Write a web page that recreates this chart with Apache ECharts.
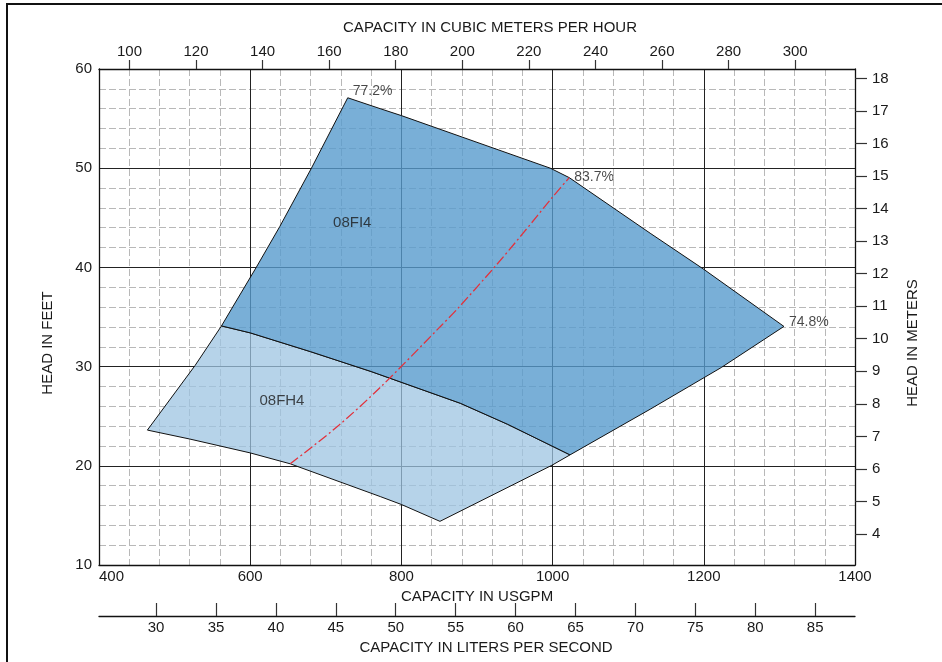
<!DOCTYPE html>
<html>
<head>
<meta charset="utf-8">
<title>08FH4 / 08FI4 performance range</title>
<script src="https://cdn.jsdelivr.net/npm/echarts@6/dist/echarts.min.js"></script>
<style>
  html, body { margin: 0; padding: 0; background: #fff; overflow: hidden; }
  #frame { position: absolute; left: 6px; top: 3px; width: 960px; height: 700px;
           border-left: 2px solid #111; border-top: 2px solid #111; }
  #main { position: absolute; left: 0; top: 0; width: 942px; height: 662px; }
</style>
</head>
<body>
<div id="frame"></div>
<div id="main"></div>
<script>
// unit conversions from the primary axes (USGPM, feet)
var GPM_TO_CMH = 0.2271247;
var GPM_TO_LPS = 0.0630902;
var FT_TO_M = 0.3048;

// secondary axis tick labels
var cmhTicks = [100, 120, 140, 160, 180, 200, 220, 240, 260, 280, 300];
var lpsTicks = [30, 35, 40, 45, 50, 55, 60, 65, 70, 75, 80, 85];
var meterTicks = [4, 5, 6, 7, 8, 9, 10, 11, 12, 13, 14, 15, 16, 17, 18];

// envelope edges, [USGPM, feet]
var leftEdgeLow = [[464, 23.6], [527, 30.1], [562, 34.1]];
var leftEdgeHigh = [[562, 34.1], [576, 35.9], [608, 40.0], [639, 44.1], [681, 50.0], [729, 57.1]];
var fi4Top = [[729, 57.1], [772, 56.0], [800, 55.3], [904, 52.5], [997, 50.0], [1022, 49.05]];
var fi4Right = [[1022, 49.05], [1129, 43.45], [1199, 39.86], [1306, 34.05]];
var rightEdgeHigh = [[1306, 34.05], [1223, 29.9], [1129, 25.7], [1023, 21.1]];
var rightEdgeLow = [[1023, 21.1], [999, 20.05], [851, 14.4]];
var splitEdge = [[562, 34.1], [600, 33.4], [680, 31.5], [760, 29.5], [878, 26.3], [940, 24.2], [999, 22.0], [1023, 21.1]];
var fh4Bottom = [[851, 14.4], [800, 16.1], [772, 16.9], [653, 20.2], [600, 21.3], [520, 22.7], [464, 23.6]];

// best efficiency line
var bepLine = [[653, 20.2], [716, 24.0], [772, 27.9], [851, 34.0], [875, 35.9], [924, 40.1], [961, 43.45], [999, 47.0], [1022, 49.05]];

// annotations
var pctNames = ['77.2%', '83.7%', '74.8%'];
var pctPoints = [[729, 57.1], [1022, 49.05], [1306, 34.05]];
var modelNames = ['08FI4', '08FH4'];
var modelPoints = [[735, 44.5], [642, 26.5]];

var fh4Poly = leftEdgeLow.concat(splitEdge.slice(1), rightEdgeLow.slice(1), fh4Bottom.slice(1, -1));
var fi4Poly = leftEdgeHigh.concat(fi4Top.slice(1), fi4Right.slice(1), rightEdgeHigh.slice(1), splitEdge.slice(1, -1).reverse());

var textColor = '#1a1a1a';
var fontFamily = 'Liberation Sans, Arial, sans-serif';

function plain(v) {
  return String(Math.round(v));
}

function polygonSeries(name, pts, fill) {
  return {
    name: name,
    type: 'custom',
    xAxisIndex: 0,
    yAxisIndex: 0,
    silent: true,
    z: 3,
    data: [pts[0]],
    renderItem: function (params, api) {
      return {
        type: 'polygon',
        shape: { points: pts.map(function (p) { return api.coord(p); }) },
        style: { fill: fill, stroke: '#111', lineWidth: 1 }
      };
    }
  };
}

var chart = echarts.init(document.getElementById('main'));

var option = {
  animation: false,
  backgroundColor: 'transparent',
  textStyle: { fontFamily: fontFamily, color: textColor },
  grid: { left: 99, right: 87, top: 69, bottom: 97 },
  xAxis: [{
    type: 'value',
    position: 'bottom',
    min: 400,
    max: 1400,
    interval: 200,
    name: 'CAPACITY IN USGPM',
    nameLocation: 'middle',
    nameGap: 23,
    nameTextStyle: { fontSize: 15, color: textColor },
    axisLine: { lineStyle: { color: '#111', width: 1.3 } },
    axisTick: { show: false },
    axisLabel: { fontSize: 15, color: textColor, margin: 4, alignMinLabel: 'left', formatter: plain },
    splitLine: { show: true, lineStyle: { color: '#222', width: 1 } },
    minorTick: { show: false, splitNumber: 5 },
    minorSplitLine: { show: true, lineStyle: { color: '#b8b8b8', width: 1, type: [7, 3] } }
  }, {
    type: 'value',
    position: 'top',
    min: 400 * GPM_TO_CMH,
    max: 1400 * GPM_TO_CMH,
    name: 'CAPACITY IN CUBIC METERS PER HOUR',
    nameLocation: 'middle',
    nameGap: 34,
    nameTextStyle: { fontSize: 15, color: textColor, padding: [0, 0, 0, 26] },
    axisLine: { lineStyle: { color: '#111', width: 1.3 } },
    axisTick: { show: true, inside: false, length: 9, customValues: cmhTicks, lineStyle: { color: '#333', width: 1.2 } },
    axisLabel: { fontSize: 15, color: textColor, margin: 10, customValues: cmhTicks, formatter: plain },
    splitLine: { show: false }
  }, {
    type: 'value',
    position: 'bottom',
    offset: 51,
    min: 400 * GPM_TO_LPS,
    max: 1400 * GPM_TO_LPS,
    name: 'CAPACITY IN LITERS PER SECOND',
    nameLocation: 'middle',
    nameGap: 22,
    nameTextStyle: { fontSize: 15, color: textColor, padding: [0, 0, 0, 18] },
    axisLine: { lineStyle: { color: '#111', width: 1.3 } },
    axisTick: { show: true, inside: true, length: 13, customValues: lpsTicks, lineStyle: { color: '#333', width: 1.2 } },
    axisLabel: { fontSize: 15, color: textColor, margin: 4, customValues: lpsTicks, formatter: plain },
    splitLine: { show: false }
  }],
  yAxis: [{
    type: 'value',
    position: 'left',
    min: 10,
    max: 60,
    interval: 10,
    name: 'HEAD IN FEET',
    nameLocation: 'middle',
    nameRotate: 90,
    nameGap: 44,
    nameTextStyle: { fontSize: 15, color: textColor, padding: [0, 52, 0, 0] },
    axisLine: { show: true, lineStyle: { color: '#111', width: 1.3 } },
    axisTick: { show: false },
    axisLabel: { fontSize: 15, color: textColor, margin: 7, formatter: plain },
    splitLine: { show: true, lineStyle: { color: '#222', width: 1 } },
    minorTick: { show: false, splitNumber: 5 },
    minorSplitLine: { show: true, lineStyle: { color: '#b8b8b8', width: 1, type: [7, 3] } }
  }, {
    type: 'value',
    position: 'right',
    min: 10 * FT_TO_M,
    max: 60 * FT_TO_M,
    name: 'HEAD IN METERS',
    nameLocation: 'middle',
    nameRotate: 90,
    nameGap: 50,
    nameTextStyle: { fontSize: 15, color: textColor, padding: [0, 52, 0, 0] },
    axisLine: { show: true, lineStyle: { color: '#111', width: 1.3 } },
    axisTick: { show: true, inside: false, length: 12, customValues: meterTicks, lineStyle: { color: '#333', width: 1.2 } },
    axisLabel: { fontSize: 15, color: textColor, margin: 17, customValues: meterTicks, formatter: plain },
    splitLine: { show: false }
  }],
  series: [
    polygonSeries('08FH4', fh4Poly, 'rgba(158,196,225,0.75)'),
    polygonSeries('08FI4', fi4Poly, 'rgba(88,155,205,0.8)'),
    {
      name: 'BEP',
      type: 'line',
      xAxisIndex: 0,
      yAxisIndex: 0,
      data: bepLine,
      smooth: 0.3,
      symbol: 'none',
      z: 4,
      silent: true,
      lineStyle: { color: '#e2323c', width: 1.3, type: [10, 3, 2, 3] }
    },
    {
      name: 'efficiency',
      type: 'scatter',
      xAxisIndex: 0,
      yAxisIndex: 0,
      symbolSize: 0,
      z: 5,
      silent: true,
      data: pctPoints.map(function (p, i) { return { name: pctNames[i], value: p }; }),
      label: {
        show: true,
        position: 'right',
        distance: 5,
        fontSize: 14,
        color: textColor,
        formatter: '{b}'
      },
      labelLayout: function (params) {
        var dy = [-7, 0, -4][params.dataIndex];
        return { dy: dy };
      }
    },
    {
      name: 'models',
      type: 'scatter',
      xAxisIndex: 0,
      yAxisIndex: 0,
      symbolSize: 0,
      z: 5,
      silent: true,
      data: modelPoints.map(function (p, i) { return { name: modelNames[i], value: p }; }),
      label: {
        show: true,
        position: 'inside',
        fontSize: 15,
        color: textColor,
        formatter: '{b}'
      }
    }
  ]
};

chart.setOption(option);
</script>
</body>
</html>
